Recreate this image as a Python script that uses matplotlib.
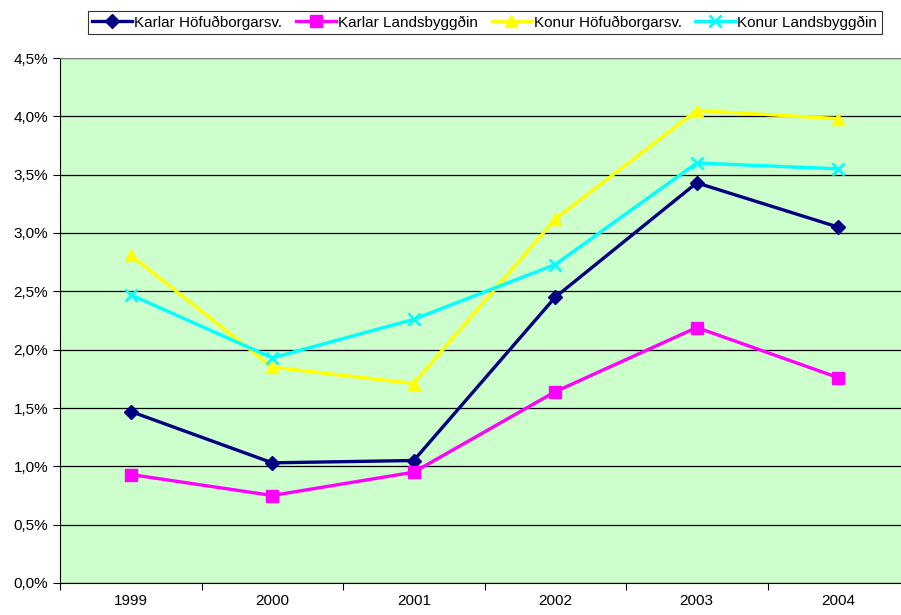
import matplotlib
matplotlib.use("Agg")
import matplotlib.pyplot as plt
from matplotlib.ticker import FuncFormatter, FixedLocator, NullFormatter
import numpy as np

plt.rcParams['font.family'] = ['Liberation Sans', 'DejaVu Sans']

# Gögn (hlutfall, %)
years = ["1999", "2000", "2001", "2002", "2003", "2004"]
karlar_hofud = [1.47, 1.03, 1.05, 2.45, 3.43, 3.05]
karlar_lands = [0.93, 0.75, 0.95, 1.64, 2.19, 1.76]
konur_hofud = [2.81, 1.85, 1.71, 3.12, 4.05, 3.98]
konur_lands = [2.47, 1.93, 2.26, 2.73, 3.60, 3.55]

series = [
    ("Karlar Höfuðborgarsv.", karlar_hofud, "#000080", "D", 7),
    ("Karlar Landsbyggðin", karlar_lands, "#FF00FF", "s", 9),
    ("Konur Höfuðborgarsv.", konur_hofud, "#FFFF00", "^", 9),
    ("Konur Landsbyggðin", konur_lands, "#00FFFF", "x", 8),
]

fig = plt.figure(figsize=(9.01, 6.15), dpi=100)
# teiknisvæðið nær út fyrir hægri brún myndar eins og í frumriti
ax = fig.add_axes([60 / 901, 1 - 583 / 615, 849 / 901, 525 / 615])
ax.set_facecolor("#CCFFCC")

x = np.arange(len(years))
for name, vals, col, mk, ms in series:
    ax.plot(x, vals, color=col, marker=mk, markersize=ms, linewidth=2.4,
            markeredgewidth=2 if mk == "x" else 1, markeredgecolor=col,
            label=name)

ax.set_xlim(-0.5, len(years) - 0.5)
ax.set_ylim(0, 4.5)
ax.set_yticks(np.arange(0, 4.51, 0.5))
ax.yaxis.set_major_formatter(FuncFormatter(lambda v, p: f"{v:.1f}%".replace(".", ",")))
ax.yaxis.grid(True, color="black", linewidth=0.9)
ax.set_axisbelow(True)

# Ártöl á miðju, merki á milli flokka
ax.xaxis.set_major_locator(FixedLocator(np.arange(-0.5, len(years), 1)))
ax.xaxis.set_major_formatter(NullFormatter())
ax.xaxis.set_minor_locator(FixedLocator(x))
ax.set_xticklabels(years, minor=True)
ax.tick_params(axis="x", which="minor", length=0, labelsize=11, pad=8)
ax.tick_params(axis="x", which="major", length=5, direction="out")
ax.tick_params(axis="y", length=5, direction="out", labelsize=11)

ax.spines["top"].set_color("#808080")
ax.spines["right"].set_visible(False)
ax.spines["left"].set_color("black")
ax.spines["bottom"].set_color("black")

leg = fig.legend(loc="upper center", bbox_to_anchor=(0.538, 0.995), ncol=4,
                 fontsize=11, frameon=True, fancybox=False, edgecolor="black",
                 handlelength=2.6, handletextpad=0.15, columnspacing=0.9,
                 borderpad=0.3)
leg.get_frame().set_linewidth(0.8)

fig.savefig("out.png", dpi=100)
